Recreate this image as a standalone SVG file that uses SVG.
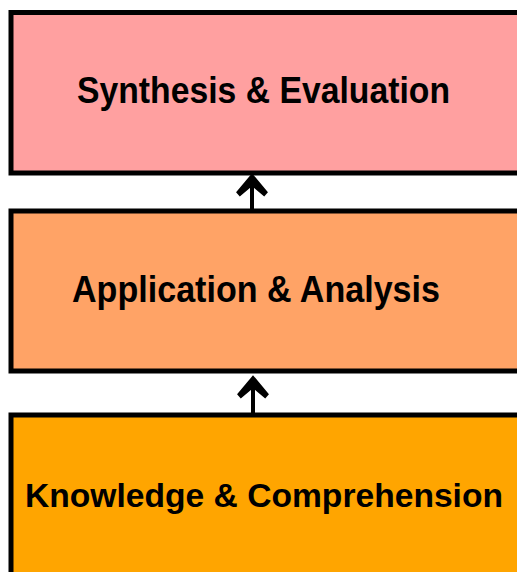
<svg xmlns="http://www.w3.org/2000/svg" width="517" height="572" viewBox="0 0 517 572">
  <style>
    .box { stroke: #000; stroke-width: 5; }
    .lbl { font-family: "Liberation Sans", Arial, sans-serif; font-weight: bold; font-size: 37px; fill: #000; }
    .conn { stroke: #000; stroke-width: 4; fill: none; }
  </style>
  <defs>
    <marker id="arrow" markerUnits="userSpaceOnUse" markerWidth="30" markerHeight="34" viewBox="0 -16 24 32" refX="8" refY="0" orient="auto" overflow="visible">
      <path d="M22,0 L4,15 L0,11.5 L8,2 L8,-2 L0,-11.5 L4,-15 Z" fill="#000"/>
    </marker>
  </defs>
  <rect width="517" height="572" fill="#fff"/>
  <g id="synthesis">
    <rect class="box" x="11" y="12.5" width="530" height="160.5" fill="#FFA0A0"/>
    <text class="lbl" x="77" y="103" textLength="373" lengthAdjust="spacingAndGlyphs">Synthesis &amp; Evaluation</text>
  </g>
  <g id="application">
    <rect class="box" x="11" y="211" width="530" height="160" fill="#FFA366"/>
    <text class="lbl" x="72" y="302" textLength="368" lengthAdjust="spacingAndGlyphs">Application &amp; Analysis</text>
  </g>
  <g id="knowledge">
    <rect class="box" x="11" y="415" width="530" height="200" fill="#FFA500"/>
    <text class="lbl" x="25" y="507" font-size="34" style="font-size:34px" textLength="478" lengthAdjust="spacingAndGlyphs">Knowledge &amp; Comprehension</text>
  </g>
  <g id="connectors">
    <line class="conn" x1="252" y1="209" x2="252" y2="188" marker-end="url(#arrow)"/>
    <line class="conn" x1="253" y1="413" x2="253" y2="390" marker-end="url(#arrow)"/>
  </g>
</svg>
